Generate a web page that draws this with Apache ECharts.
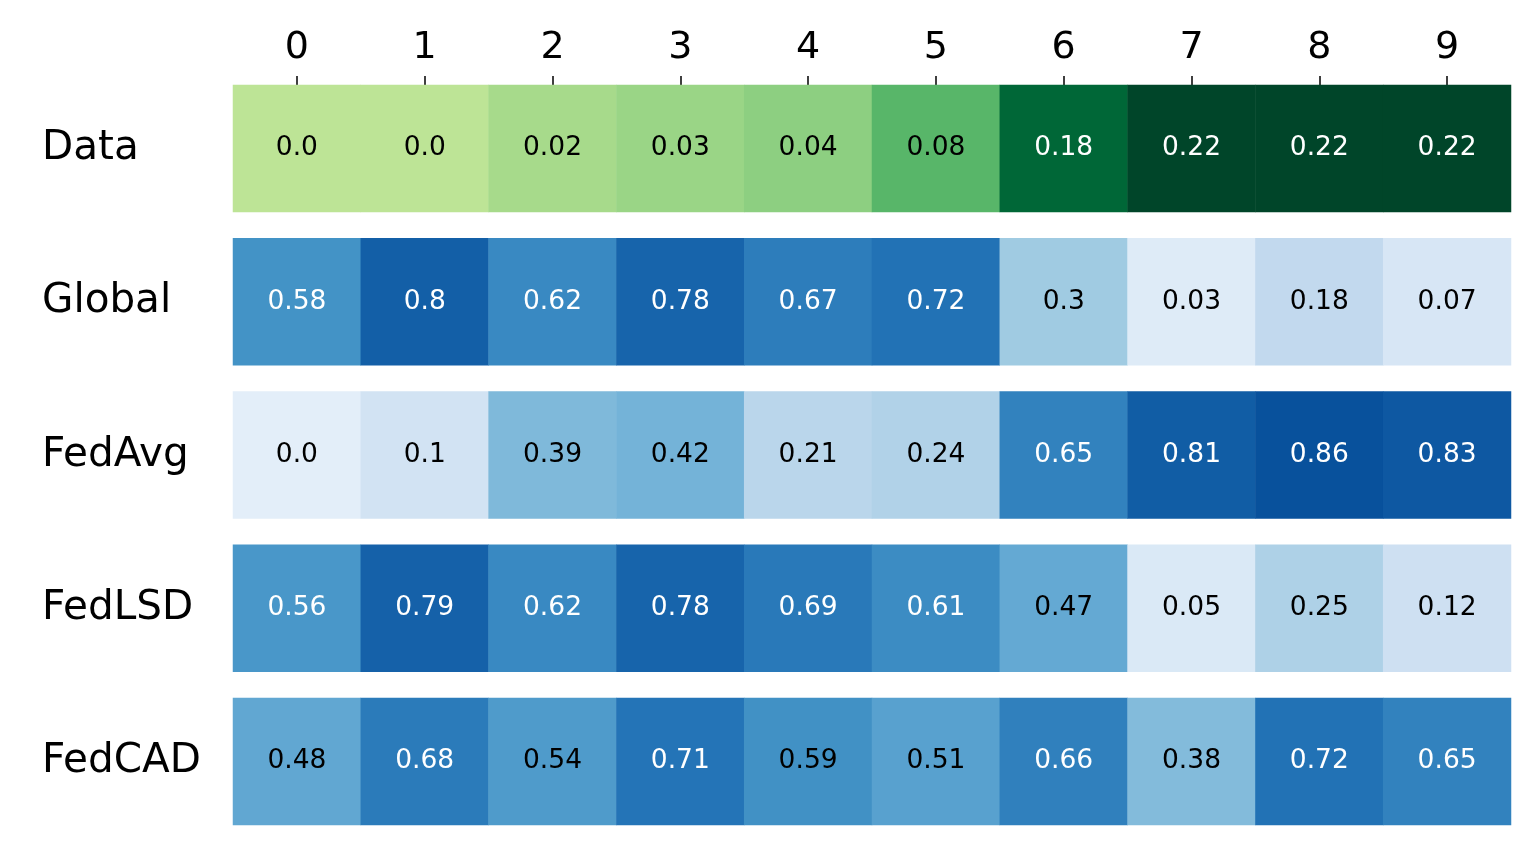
<!DOCTYPE html>
<html>
<head>
<meta charset="utf-8">
<script src="https://cdn.jsdelivr.net/npm/echarts@6/dist/echarts.min.js"></script>
<style>
html,body{margin:0;padding:0;background:#fff;}
#chart{width:1534px;height:857px;}
</style>
</head>
<body>
<div id="chart"></div>
<script>
// ---- data ----
const columns = ['0','1','2','3','4','5','6','7','8','9'];
const rowLabels = ['Data','Global','FedAvg','FedLSD','FedCAD'];
const dataRow   = [0.0, 0.0, 0.02, 0.03, 0.04, 0.08, 0.18, 0.22, 0.22, 0.22];
const globalRow = [0.58, 0.8, 0.62, 0.78, 0.67, 0.72, 0.3, 0.03, 0.18, 0.07];
const fedAvgRow = [0.0, 0.1, 0.39, 0.42, 0.21, 0.24, 0.65, 0.81, 0.86, 0.83];
const fedLSDRow = [0.56, 0.79, 0.62, 0.78, 0.69, 0.61, 0.47, 0.05, 0.25, 0.12];
const fedCADRow = [0.48, 0.68, 0.54, 0.71, 0.59, 0.51, 0.66, 0.38, 0.72, 0.65];

const rows = [dataRow, globalRow, fedAvgRow, fedLSDRow, fedCADRow];
// ---- styles ----
const FONT = 'DejaVu Sans';
const whiteAbove = [0.1, 0.5, 0.5, 0.5, 0.6];
const YlGn = ['#ffffe5','#f7fcb9','#d9f0a3','#addd8e','#78c679','#41ab5d','#238443','#006837','#004529'];
const Blues = ['#f7fbff','#deebf7','#c6dbef','#9ecae1','#6baed6','#4292c6','#2171b5','#08519c','#08306b'];

const gridLeft = 233, gridWidth = 1278, firstTop = 85, rowH = 127, rowStep = 153.25;

const grids = [], xAxes = [], yAxes = [], series = [];
rows.forEach((vals, i) => {
  grids.push({left: gridLeft, width: gridWidth, top: firstTop + i * rowStep, height: rowH});
  xAxes.push({
    type: 'category', gridIndex: i, data: columns, position: 'top',
    axisLine: {show: false},
    axisTick: {show: i === 0, alignWithLabel: true, length: 9, lineStyle: {color: '#000', width: 1.5}},
    axisLabel: {show: i === 0, fontFamily: FONT, fontSize: 38, color: '#000', margin: 18},
    splitLine: {show: false}
  });
  yAxes.push({
    type: 'category', gridIndex: i, data: [rowLabels[i]],
    axisLine: {show: false}, axisTick: {show: false}, splitLine: {show: false},
    axisLabel: {fontFamily: FONT, fontSize: 40.5, color: '#000', align: 'left', margin: 191}
  });
  const thr = whiteAbove[i];
  series.push({
    type: 'heatmap', xAxisIndex: i, yAxisIndex: i,
    data: vals.map((v, j) => ({
      value: [j, 0, v],
      label: {color: v > thr ? '#ffffff' : '#000000'}
    })),
    label: {
      show: true, fontFamily: FONT, fontSize: 26.5,
      formatter: p => (p.value[2] === 0 ? '0.0' : String(p.value[2]))
    },
    itemStyle: {borderWidth: 0},
    emphasis: {disabled: true}
  });
});

const chart = echarts.init(document.getElementById('chart'));
chart.setOption({
  animation: false,
  backgroundColor: '#ffffff',
  grid: grids, xAxis: xAxes, yAxis: yAxes,
  visualMap: [
    {type: 'continuous', show: false, seriesIndex: 0, dimension: 2, min: -0.108, max: 0.22, inRange: {color: YlGn}},
    {type: 'continuous', show: false, seriesIndex: [1,2,3,4], dimension: 2, min: -0.11, max: 1.0, inRange: {color: Blues}}
  ],
  series: series
});
</script>
</body>
</html>
